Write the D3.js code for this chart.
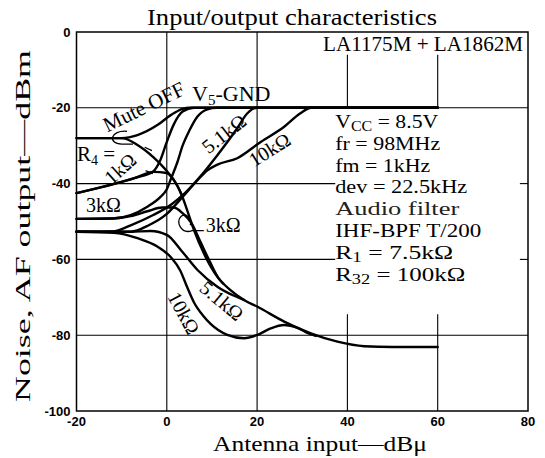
<!DOCTYPE html>
<html>
<head>
<meta charset="utf-8">
<script src="https://cdn.jsdelivr.net/npm/d3@7"></script>
<style>
  body { margin: 0; background: #fff; }
  svg { display: block; }
</style>
</head>
<body>
<div id="chart"></div>
<script>
// axis ticks
const xTicks = [-20, 0, 20, 40, 60, 80];
const yTicks = [0, -20, -40, -60, -80, -100];

// signal (AF output) curves, [dBu, dBm]
const muteOffOut = [[-20, -28], [-10, -28], [-6.5, -27.2], [-2, -24.5], [0.8, -22], [3.5, -20.3], [5, -20], [60, -20]];
const r1kOut = [[-20, -42.5], [-14, -40.8], [-7, -38.5], [-3, -36.8], [-1.5, -34], [0, -29], [1.5, -24.5], [3.5, -21], [6, -20], [60, -20]];
const r3kOut = [[-20, -49.3], [-12, -49.2], [-8, -48.3], [-4.3, -46.1], [-1.4, -43.5], [0, -41.5], [1, -38.5], [2.3, -34.5], [3.5, -30], [5, -26], [6.8, -22.3], [9, -20.4], [11, -20], [60, -20]];
const r51kOut = [[-20, -52.7], [-12, -52.6], [-8, -51], [-3, -48.3], [1, -45.5], [4, -42.5], [7.5, -38], [11.2, -32.5], [15.6, -25.4], [17.8, -21.5], [20, -20], [60, -20]];
const r10kOut = [[-20, -52.7], [-8, -52.7], [-4, -51], [0, -48], [3.5, -43.5], [6.5, -39.5], [9, -36.5], [11.2, -35], [15.6, -33.3], [20.8, -29], [26, -25], [29.5, -21.5], [32, -20], [60, -20]];

// noise curves
const muteOffNoise = [[-20, -28], [-10, -28], [-6.5, -29.8], [-3, -33], [0, -36.7], [2.3, -40.5], [3.3, -43], [4.5, -47], [6, -52.2], [8.2, -58.4], [11.2, -64.6], [14.1, -68.1], [17.1, -70.7], [20.1, -72.5], [26, -76.4], [31.9, -79.5], [37.8, -81.7], [43.7, -82.9], [50, -83.1], [60, -83.1]];
const r1kNoise = [[-20, -42.5], [-14, -40.8], [-7, -38.5], [-3, -36.9], [0, -37.2], [2.3, -40.5], [3.3, -43]];
const r3kNoise = [[-20, -49.3], [-12, -49.2], [-8, -48.6], [-4.3, -47.3], [-1, -46.3], [1.5, -46.3], [3.5, -47.8], [5.5, -50.5], [7.5, -55.5], [9.5, -60.5], [11.5, -65], [12.5, -66.4]];
const r51kNoise = [[-20, -52.7], [-8, -52.7], [-3.6, -52.5], [0.1, -53.6], [3.1, -57.5], [6.8, -62.8], [11.2, -67.2], [14.9, -69.6], [17.1, -70.7]];
const r10kNoise = [[-20, -52.7], [-11.7, -53], [-6.5, -54.4], [-2.1, -56.6], [0.8, -59.3], [3, -63], [4.5, -67.3], [6, -71.3], [8, -74.8], [9.7, -77], [13.4, -79.9], [17.1, -80.8], [20.1, -79.9], [23, -78.2], [26, -77.3], [28.9, -78], [31, -79.3], [33, -80.2]];

const curves = [muteOffOut, r1kOut, r3kOut, r51kOut, r10kOut, muteOffNoise, r1kNoise, r3kNoise, r51kNoise, r10kNoise];

// condition text block
const infoLines = [
  [{ t: "V" }, { t: "CC", sub: true }, { t: " = 8.5V" }],
  [{ t: "fr = 98MHz" }],
  [{ t: "fm = 1kHz" }],
  [{ t: "dev = 22.5kHz" }],
  [{ t: "Audio  filter", light: true }],
  [{ t: "IHF-BPF T/200" }],
  [{ t: "R" }, { t: "1", sub: true }, { t: " = 7.5kΩ" }],
  [{ t: "R" }, { t: "32", sub: true }, { t: " = 100kΩ" }]
];

const width = 545, height = 458;
const margin = { top: 32, right: 17, bottom: 47, left: 76.5 };
const serif = "'Liberation Serif', 'Times New Roman', serif";
const sans = "'Liberation Sans', Arial, sans-serif";

const svg = d3.select("#chart").append("svg")
  .attr("width", width)
  .attr("height", height);

const x = d3.scaleLinear().domain([-20, 80]).range([margin.left, width - margin.right]);
const y = d3.scaleLinear().domain([-100, 0]).range([height - margin.bottom, margin.top]);

// grid
const grid = svg.append("g").attr("stroke", "#000").attr("stroke-width", 1.1);
[-20, -80].forEach(v => grid.append("line").attr("x1", x(-20)).attr("x2", x(80)).attr("y1", y(v)).attr("y2", y(v)));
[-40, -60].forEach(v => {
  grid.append("line").attr("x1", x(-20)).attr("x2", x(37.3)).attr("y1", y(v)).attr("y2", y(v));
  grid.append("line").attr("x1", x(78.2)).attr("x2", x(80)).attr("y1", y(v)).attr("y2", y(v));
});
[0, 20].forEach(v => grid.append("line").attr("x1", x(v)).attr("x2", x(v)).attr("y1", y(0)).attr("y2", y(-100)));
[40, 60].forEach(v => {
  grid.append("line").attr("x1", x(v)).attr("x2", x(v)).attr("y1", y(-6)).attr("y2", y(-20));
  grid.append("line").attr("x1", x(v)).attr("x2", x(v)).attr("y1", y(-74.5)).attr("y2", y(-100));
});

// frame
svg.append("rect")
  .attr("x", x(-20)).attr("y", y(0))
  .attr("width", x(80) - x(-20)).attr("height", y(-100) - y(0))
  .attr("fill", "none").attr("stroke", "#000").attr("stroke-width", 1.5);

// tick labels
svg.append("g").selectAll("text").data(yTicks).join("text")
  .attr("x", x(-20) - 6).attr("y", d => y(d)).attr("dy", "0.36em")
  .attr("text-anchor", "end")
  .attr("font-family", sans).attr("font-weight", "bold").attr("font-size", 13)
  .text(d => d === 0 ? "0" : "-" + Math.abs(d));

svg.append("g").selectAll("text").data(xTicks).join("text")
  .attr("x", d => x(d)).attr("y", y(-100) + 15)
  .attr("text-anchor", "middle")
  .attr("font-family", sans).attr("font-weight", "bold").attr("font-size", 13)
  .text(d => d < 0 ? "-" + Math.abs(d) : d);

// curves
const line = d3.line().x(d => x(d[0])).y(d => y(d[1])).curve(d3.curveMonotoneX);
svg.append("g").selectAll("path").data(curves).join("path")
  .attr("d", line)
  .attr("fill", "none").attr("stroke", "#000").attr("stroke-width", 2.4)
  .attr("stroke-linejoin", "round").attr("stroke-linecap", "round");

// titles
svg.append("text")
  .attr("x", 292).attr("y", 25)
  .attr("text-anchor", "middle")
  .attr("font-family", serif).attr("font-size", 23)
  .attr("textLength", 290).attr("lengthAdjust", "spacingAndGlyphs")
  .text("Input/output  characteristics");

svg.append("text")
  .attr("x", x(78.9)).attr("y", 51)
  .attr("text-anchor", "end")
  .attr("font-family", serif).attr("font-size", 21)
  .attr("textLength", 200).attr("lengthAdjust", "spacingAndGlyphs")
  .text("LA1175M + LA1862M");

svg.append("text")
  .attr("x", 320).attr("y", 451)
  .attr("text-anchor", "middle")
  .attr("font-family", serif).attr("font-size", 21)
  .attr("textLength", 214).attr("lengthAdjust", "spacingAndGlyphs")
  .text("Antenna  input—dBμ");

svg.append("text")
  .attr("transform", "translate(30,226) rotate(-90)")
  .attr("text-anchor", "middle")
  .attr("font-family", serif).attr("font-size", 22)
  .attr("textLength", 352).attr("lengthAdjust", "spacingAndGlyphs")
  .text("Noise,  AF  output—dBm");

// condition block
const infoWidths = [103, 105, 95, 132, 124, 146, 118, 130];
const info = svg.append("g").attr("font-family", serif).attr("font-size", 19);
infoLines.forEach((parts, i) => {
  const t = info.append("text")
    .attr("x", x(37.3)).attr("y", 128 + i * 21.8)
    .attr("textLength", infoWidths[i]).attr("lengthAdjust", "spacingAndGlyphs");
  parts.forEach((p, j) => {
    const prevSub = j > 0 && parts[j - 1].sub;
    t.append("tspan")
      .attr("dy", p.sub ? 3 : (prevSub ? -3 : 0))
      .attr("font-size", p.sub ? 14 : null)
      .attr("fill", p.light ? "#222" : "#000")
      .text(p.t);
  });
});

// curve labels
const anno = svg.append("g").attr("font-family", serif).attr("font-size", 20);

const v5 = anno.append("text").attr("x", x(5.6)).attr("y", y(-18.2)).attr("font-size", 22);
v5.append("tspan").text("V");
v5.append("tspan").attr("dy", 4).attr("font-size", 15).text("5");
v5.append("tspan").attr("dy", -4).text("-GND");

anno.append("text")
  .attr("transform", `translate(${x(-4.4)},${y(-21.4)}) rotate(-26)`)
  .attr("text-anchor", "middle").attr("font-size", 21)
  .text("Mute OFF");

const r4 = anno.append("text").attr("x", x(-19.9)).attr("y", y(-34)).attr("font-size", 21);
r4.append("tspan").text("R");
r4.append("tspan").attr("dy", 4).attr("font-size", 14).text("4");
r4.append("tspan").attr("dy", -4).text(" =");

anno.append("text")
  .attr("transform", `translate(${x(-9.3)},${y(-37.4)}) rotate(-42)`)
  .attr("text-anchor", "middle").text("1kΩ");

anno.append("text").attr("x", x(-17.9)).attr("y", y(-47.6)).text("3kΩ");
anno.append("text").attr("x", x(8.6)).attr("y", y(-52.8)).text("3kΩ");

anno.append("text")
  .attr("transform", `translate(${x(13.6)},${y(-28.3)}) rotate(-38)`)
  .attr("text-anchor", "middle").text("5.1kΩ");
anno.append("text")
  .attr("transform", `translate(${x(23.6)},${y(-32.6)}) rotate(-32)`)
  .attr("text-anchor", "middle").text("10kΩ");
anno.append("text")
  .attr("transform", `translate(${x(11.2)},${y(-72.3)}) rotate(40)`)
  .attr("text-anchor", "middle").text("5.1kΩ");
anno.append("text")
  .attr("transform", `translate(${x(2.4)},${y(-75)}) rotate(62)`)
  .attr("text-anchor", "middle").text("10kΩ");

// small pointer marks
const marks = svg.append("g").attr("fill", "none").attr("stroke", "#000").attr("stroke-width", 1.3);
marks.append("path").attr("d",
  `M${x(-8.8)},${y(-26.2)} C${x(-12.5)},${y(-25.8)} ${x(-13.2)},${y(-29.5)} ${x(-10)},${y(-29.6)} L${x(-7.5)},${y(-29.6)}`);
marks.append("path").attr("d",
  `M${x(8.2)},${y(-52.4)} L${x(5.6)},${y(-52.4)} C${x(3.2)},${y(-53.5)} ${x(1.8)},${y(-50)} ${x(3.2)},${y(-48.6)} C${x(4.4)},${y(-47.6)} ${x(5.6)},${y(-49.5)} ${x(5.2)},${y(-51)}`);
marks.append("line").attr("x1", x(-4.9)).attr("y1", y(-30.4)).attr("x2", x(-3.3)).attr("y2", y(-31.3));
marks.append("line").attr("x1", x(-4.7)).attr("y1", y(-36.6)).attr("x2", x(-3.1)).attr("y2", y(-37.4));
</script>
</body>
</html>
